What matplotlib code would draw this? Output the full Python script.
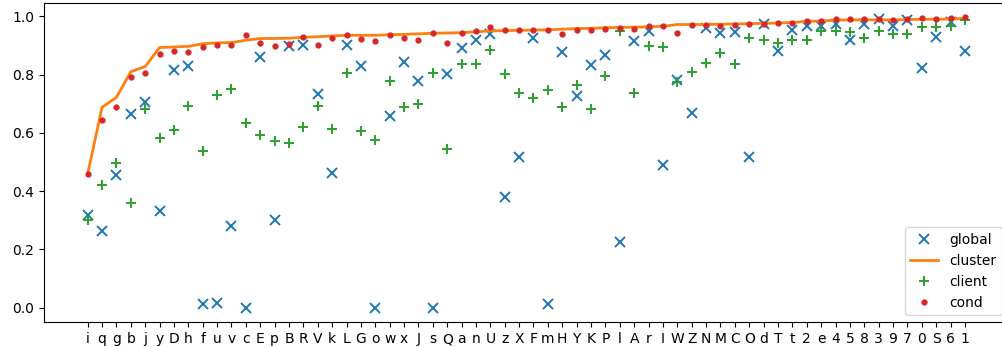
import matplotlib
matplotlib.use("Agg")
import matplotlib.pyplot as plt

labels = ["i", "q", "g", "b", "j", "y", "D", "h", "f", "u", "v", "c", "E", "p", "B", "R",
          "V", "k", "L", "G", "o", "w", "x", "J", "s", "Q", "a", "n", "U", "z", "X", "F",
          "m", "H", "Y", "K", "P", "l", "A", "r", "I", "W", "Z", "N", "M", "C", "O", "d",
          "T", "t", "2", "e", "4", "5", "8", "3", "9", "7", "0", "S", "6", "1"]

global_acc = [0.317, 0.264, 0.456, 0.664, 0.706, 0.331, 0.817, 0.830, 0.014, 0.016,
              0.281, 0.000, 0.860, 0.302, 0.897, 0.903, 0.734, 0.463, 0.903, 0.830,
              0.000, 0.657, 0.845, 0.779, 0.000, 0.803, 0.891, 0.919, 0.939, 0.381,
              0.517, 0.927, 0.014, 0.877, 0.728, 0.834, 0.866, 0.225, 0.917, 0.951,
              0.490, 0.780, 0.669, 0.960, 0.943, 0.947, 0.517, 0.974, 0.882, 0.954,
              0.966, 0.966, 0.974, 0.918, 0.974, 0.991, 0.966, 0.989, 0.823, 0.930,
              0.982, 0.882]

cluster_acc = [0.459, 0.688, 0.722, 0.810, 0.828, 0.893, 0.895, 0.897, 0.906, 0.909,
               0.910, 0.918, 0.924, 0.924, 0.925, 0.928, 0.930, 0.933, 0.935, 0.935,
               0.935, 0.937, 0.938, 0.940, 0.942, 0.943, 0.944, 0.947, 0.950, 0.951,
               0.952, 0.953, 0.954, 0.956, 0.958, 0.959, 0.961, 0.962, 0.963, 0.964,
               0.966, 0.972, 0.972, 0.972, 0.973, 0.974, 0.975, 0.976, 0.977, 0.979,
               0.983, 0.984, 0.987, 0.988, 0.988, 0.988, 0.988, 0.989, 0.990, 0.990,
               0.991, 0.993]

client_acc = [0.302, 0.422, 0.496, 0.360, 0.682, 0.582, 0.610, 0.693, 0.538, 0.729,
              0.751, 0.634, 0.592, 0.573, 0.564, 0.622, 0.692, 0.614, 0.807, 0.605,
              0.577, 0.777, 0.689, 0.699, 0.806, 0.545, 0.837, 0.837, 0.885, 0.801,
              0.737, 0.721, 0.746, 0.688, 0.765, 0.683, 0.797, 0.951, 0.736, 0.899,
              0.894, 0.774, 0.809, 0.841, 0.873, 0.835, 0.926, 0.920, 0.907, 0.920,
              0.919, 0.951, 0.951, 0.947, 0.925, 0.951, 0.938, 0.939, 0.963, 0.965,
              0.966, 0.987]

cond_acc = [0.459, 0.646, 0.688, 0.791, 0.807, 0.871, 0.881, 0.877, 0.895, 0.902,
            0.903, 0.936, 0.908, 0.897, 0.904, 0.930, 0.902, 0.925, 0.937, 0.924,
            0.917, 0.936, 0.927, 0.918, 0.944, 0.909, 0.943, 0.950, 0.965, 0.953,
            0.953, 0.953, 0.953, 0.939, 0.953, 0.952, 0.957, 0.959, 0.955, 0.966,
            0.968, 0.942, 0.971, 0.970, 0.967, 0.970, 0.975, 0.975, 0.976, 0.978,
            0.983, 0.983, 0.991, 0.991, 0.990, 0.990, 0.987, 0.991, 0.993, 0.992,
            0.993, 0.997]


def main():
    fig = plt.figure(figsize=(10.02, 3.47), dpi=100)
    # right spine falls just outside the canvas, as in the reference crop
    ax = fig.add_axes([43.8 / 1002, 24.7 / 347, 965 / 1002, 319.6 / 347])
    x = list(range(len(labels)))
    ax.plot(x, global_acc, "x", color="tab:blue", ms=6.5, mew=1.4, label="global")
    ax.plot(x, cluster_acc, "-", color="tab:orange", lw=2, label="cluster")
    ax.plot(x, client_acc, "+", color="tab:green", ms=6.5, mew=1.4, label="client")
    ax.plot(x, cond_acc, ".", color="tab:red", ms=7, label="cond")
    ax.set_xticks(x)
    ax.set_xticklabels(labels)
    ax.legend(loc="lower right")
    fig.savefig("out.png", dpi=100)
    plt.close(fig)


if __name__ == '__main__':
    main()
